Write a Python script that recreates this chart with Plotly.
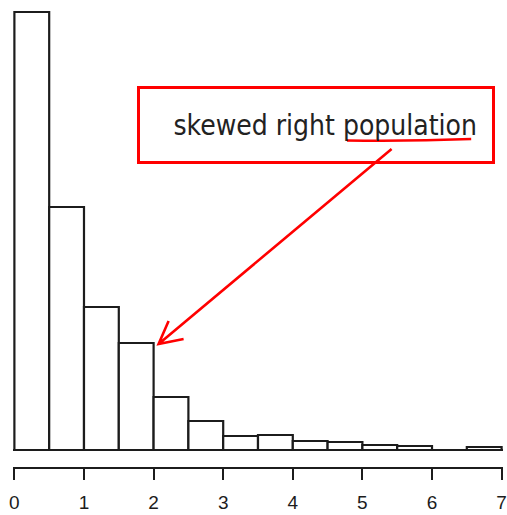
import plotly.graph_objects as go

# Histogram of a right-skewed population (bin width 0.5 from 0 to 7)
bin_edges = [0.0, 0.5, 1.0, 1.5, 2.0, 2.5, 3.0, 3.5, 4.0, 4.5, 5.0, 5.5, 6.0, 6.5, 7.0]
freq = [438, 243, 143, 107, 53, 29, 14, 15, 9, 8, 5, 4, 0, 3]
tick_values = [0, 1, 2, 3, 4, 5, 6, 7]
tick_labels = ["0", "1", "2", "3", "4", "5", "6", "7"]
note_text = "skewed right population"
pointed_bin = 3  # bin 1.5-2.0

W, H = 507, 515
M_L, M_R, M_T, M_B = 13, 1, 0, 48
PW, PH = W - M_L - M_R, H - M_T - M_B


def px(x):
    return (x - M_L) / PW


def py(y):
    return (H - M_B - y) / PH


centers = [(a + b) / 2 for a, b in zip(bin_edges[:-1], bin_edges[1:])]
widths = [b - a for a, b in zip(bin_edges[:-1], bin_edges[1:])]

ink = "#1c1c1c"
red = "#ff0000"

fig = go.Figure(
    go.Bar(
        x=centers,
        y=freq,
        width=widths,
        marker=dict(color="white", line=dict(color=ink, width=2.2)),
        showlegend=False,
        hoverinfo="skip",
    )
)

fig.update_layout(
    width=W,
    height=H,
    margin=dict(l=M_L, r=M_R, t=M_T, b=M_B, pad=0),
    paper_bgcolor="white",
    plot_bgcolor="white",
    xaxis=dict(
        range=[-0.02, 7.02],
        tickmode="array",
        tickvals=tick_values,
        ticktext=tick_labels,
        ticks="outside",
        ticklen=11,
        tickwidth=2,
        tickcolor=ink,
        showline=True,
        linecolor=ink,
        linewidth=2,
        showgrid=False,
        zeroline=False,
        ticklabeloverflow="allow",
        ticklabelstandoff=6,
        tickfont=dict(family="Liberation Sans, Arial", size=19, color=ink),
    ),
    yaxis=dict(
        range=[-17, 450],
        showgrid=False,
        showticklabels=False,
        ticks="",
        showline=False,
        zeroline=True,
        zerolinecolor=ink,
        zerolinewidth=2,
    ),
)

# Boxed caption
fig.add_annotation(
    xref="paper", yref="paper",
    x=px(138), y=py(86),
    xanchor="left", yanchor="top",
    text=note_text,
    showarrow=False,
    width=322, height=42,
    align="right", valign="middle",
    borderpad=15, borderwidth=3, bordercolor=red,
    font=dict(family="DejaVu Sans Condensed, DejaVu Sans", size=28, color="#222222"),
)

# Red underline under "population"
fig.add_shape(
    type="path",
    xref="paper", yref="paper",
    path=f"M {px(349)},{py(140.5)} Q {px(410)},{py(141.5)} {px(474)},{py(139)}",
    line=dict(color=red, width=2.6),
)

# Arrow from the caption to the top-right corner of the 1.5-2.0 bar:
# pixel offsets (y up) measured from that corner
tip = (5, -1)
tail = (238, 194)
barbs = [(15, 22), (30, 4)]
arrow_path = (
    f"M {tail[0]},{tail[1]} L {tip[0]},{tip[1]} "
    f"M {barbs[0][0]},{barbs[0][1]} L {tip[0]},{tip[1]} L {barbs[1][0]},{barbs[1][1]}"
)
fig.add_shape(
    type="path",
    xref="x", yref="y",
    xsizemode="pixel", ysizemode="pixel",
    xanchor=bin_edges[pointed_bin + 1], yanchor=freq[pointed_bin],
    path=arrow_path,
    line=dict(color=red, width=2.6),
)

fig.write_html("out.html")
